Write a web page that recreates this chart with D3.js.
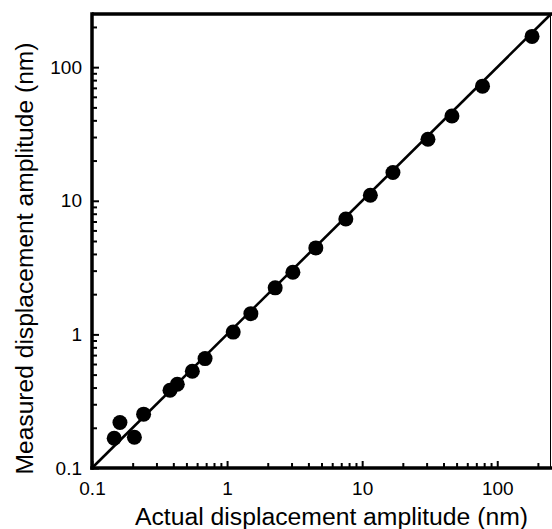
<!DOCTYPE html>
<html>
<head>
<meta charset="utf-8">
<script src="https://cdn.jsdelivr.net/npm/d3@7/dist/d3.min.js"></script>
<style>
  html, body { margin: 0; padding: 0; background: #fff; }
  svg { display: block; }
  text { font-family: "Liberation Sans", Arial, sans-serif; fill: #000; }
</style>
</head>
<body>
<svg id="chart" width="552" height="529"></svg>
<script>
// Data (actual vs measured displacement amplitude, nm)
const actual   = [0.146, 0.161, 0.206, 0.241, 0.378, 0.428, 0.553, 0.687, 1.11, 1.50, 2.27, 3.07, 4.54, 7.57, 11.5, 16.9, 30.7, 46.2, 77.8, 181];
const measured = [0.167, 0.219, 0.170, 0.253, 0.382, 0.423, 0.530, 0.659, 1.04, 1.43, 2.23, 2.92, 4.44, 7.30, 11.0, 16.3, 28.9, 43.1, 72.1, 170];
const fitLine  = [0.1, 250];
const majorTicks = [0.1, 1, 10, 100];
const tickLabels = ["0.1", "1", "10", "100"];
const domainXY = [0.1, 250];
const xTitle = "Actual displacement amplitude (nm)";
const yTitle = "Measured displacement amplitude (nm)";

const svg = d3.select("#chart");
const L = 92, R = 551, T = 14, B = 468;

const x = d3.scaleLog().domain(domainXY).range([L, R]);
const y = d3.scaleLog().domain(domainXY).range([B, T]);

const minorTicks = x.ticks().filter(v => !majorTicks.some(m => Math.abs(m - v) / m < 1e-6));

// Frame: thin right border, thick top border
svg.append("line").attr("x1", R - 0.5).attr("x2", R - 0.5).attr("y1", T).attr("y2", B)
  .attr("stroke", "#000").attr("stroke-width", 1);
svg.append("line").attr("x1", L).attr("x2", R + 1).attr("y1", T).attr("y2", T)
  .attr("stroke", "#000").attr("stroke-width", 3.5);

// Ticks (inward)
const xMinor = d3.axisBottom(x).tickValues(minorTicks).tickSize(-5).tickFormat("");
const yMinor = d3.axisLeft(y).tickValues(minorTicks).tickSize(-5).tickFormat("");
const xMajor = d3.axisBottom(x).tickValues(majorTicks).tickSize(-7).tickPadding(14).tickFormat((d, i) => tickLabels[i]);
const yMajor = d3.axisLeft(y).tickValues(majorTicks).tickSize(-7).tickPadding(10).tickFormat((d, i) => tickLabels[i]);

function styleAxis(g) {
  g.attr("font-family", null).attr("font-size", null);
  g.select(".domain").remove();
  g.selectAll(".tick line").attr("stroke", "#000").attr("stroke-width", 2);
  g.selectAll(".tick text").attr("font-size", 19).attr("fill", "#000");
}
svg.append("g").attr("transform", `translate(0,${B})`).call(xMinor).call(styleAxis);
svg.append("g").attr("transform", `translate(${L},0)`).call(yMinor).call(styleAxis);
svg.append("g").attr("transform", `translate(0,${B})`).call(xMajor).call(styleAxis);
svg.append("g").attr("transform", `translate(${L},0)`).call(yMajor).call(styleAxis);

// Thick axis lines
svg.append("line").attr("x1", L).attr("x2", L).attr("y1", T - 1.75).attr("y2", B + 1.75)
  .attr("stroke", "#000").attr("stroke-width", 3.5);
svg.append("line").attr("x1", L - 1.75).attr("x2", R + 1).attr("y1", B).attr("y2", B)
  .attr("stroke", "#000").attr("stroke-width", 3.5);

// Identity line
svg.append("line")
  .attr("x1", x(fitLine[0])).attr("y1", y(fitLine[0]))
  .attr("x2", x(fitLine[1])).attr("y2", y(fitLine[1]))
  .attr("stroke", "#000").attr("stroke-width", 2.6);

// Points
svg.append("g").selectAll("circle").data(actual.map((a, i) => [a, measured[i]]))
  .join("circle")
  .attr("cx", d => x(d[0])).attr("cy", d => y(d[1])).attr("r", 7.5)
  .attr("fill", "#000");

// Axis titles
svg.append("text").attr("x", (135 + 528) / 2).attr("y", 524.5)
  .attr("text-anchor", "middle").attr("font-size", 23)
  .attr("textLength", 393).attr("lengthAdjust", "spacingAndGlyphs").text(xTitle);
svg.append("text").attr("transform", `translate(33,${(42 + 475) / 2}) rotate(-90)`)
  .attr("text-anchor", "middle").attr("font-size", 23)
  .attr("textLength", 432).attr("lengthAdjust", "spacingAndGlyphs").text(yTitle);
</script>
</body>
</html>
